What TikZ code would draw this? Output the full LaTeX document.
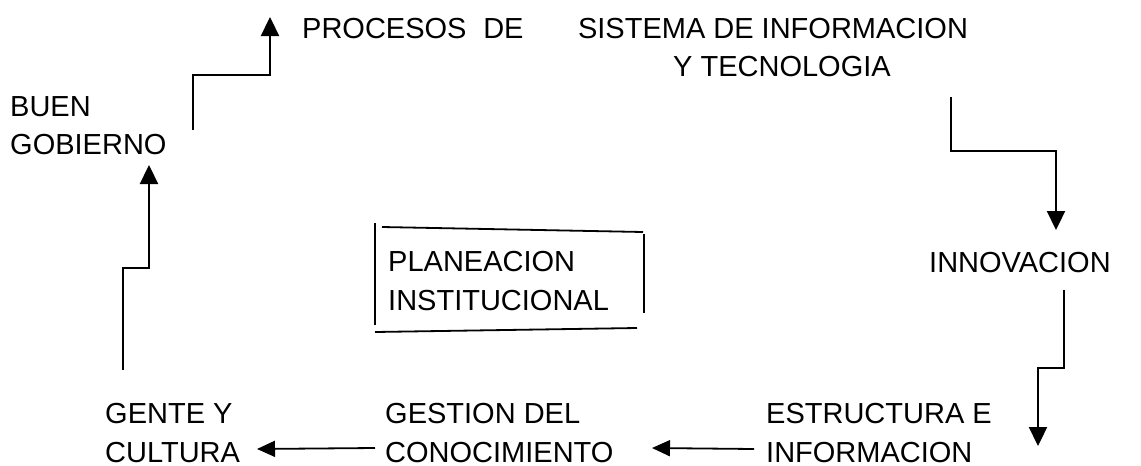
\documentclass[tikz,border=0pt]{standalone}
\usepackage{fontspec}
\setmainfont{Liberation Sans}
\usetikzlibrary{arrows.meta}
\begin{document}
\begin{tikzpicture}[x=1pt,y=-1pt,
  lbl/.style={inner sep=0pt,anchor=base west,align=left,font=\fontsize{29}{38.5}\selectfont},
  conn/.style={line width=2.3pt,-{Triangle[length=19pt,width=18pt]}},
  thin conn/.style={line width=1.8pt,-{Triangle[length=18pt,width=16pt]}},
  frame/.style={line width=1.8pt}]
\useasboundingbox (0,0) rectangle (1141,466);
% text nodes (base anchor = baseline of the last line)
\node[lbl] (proc) at (302,38) {PROCESOS\hspace{0.3em} DE};
\node[lbl,align=center,anchor=base] (sis) at (773,76.5) {SISTEMA DE INFORMACION\\\hspace{18pt}Y TECNOLOGIA};
\node[lbl] (buen) at (10,154.5) {BUEN\\GOBIERNO};
\node[lbl] (plan) at (388,310) {PLANEACION\\INSTITUCIONAL};
\node[lbl] (innov) at (929,272) {INNOVACION};
\node[lbl] (gente) at (105,462) {GENTE Y\\CULTURA};
\node[lbl] (gest) at (385,462) {GESTION DEL\\CONOCIMIENTO};
\node[lbl] (estr) at (766,462) {ESTRUCTURA E\\INFORMACION};
% connector points
\coordinate (a1) at (193,130); \coordinate (a2) at (193,75); \coordinate (a3) at (270,75); \coordinate (a4) at (270,17);
\coordinate (b1) at (951,97); \coordinate (b2) at (951,151); \coordinate (b3) at (1056,151); \coordinate (b4) at (1056,230);
\coordinate (c1) at (1064,290); \coordinate (c2) at (1064,368); \coordinate (c3) at (1038,368); \coordinate (c4) at (1038,446);
\coordinate (d1) at (754,449); \coordinate (d2) at (652,448);
\coordinate (e1) at (375,448); \coordinate (e2) at (257,449);
\coordinate (f1) at (123,370); \coordinate (f2) at (123,268); \coordinate (f3) at (149,268); \coordinate (f4) at (149,165);
% connectors
\draw[conn] (a1) -- (a2) -- (a3) -- (a4);
\draw[conn] (b1) -- (b2) -- (b3) -- (b4);
\draw[conn] (c1) -- (c2) -- (c3) -- (c4);
\draw[thin conn] (d1) -- (d2);
\draw[thin conn] (e1) -- (e2);
\draw[conn] (f1) -- (f2) -- (f3) -- (f4);
% hand-drawn frame around PLANEACION
\draw[frame] (375,223) -- (375,325);
\draw[frame] (382,227) -- (643,232);
\draw[frame] (644,234) -- (644,313);
\draw[frame] (375,332) -- (637,328);
\end{tikzpicture}
\end{document}
